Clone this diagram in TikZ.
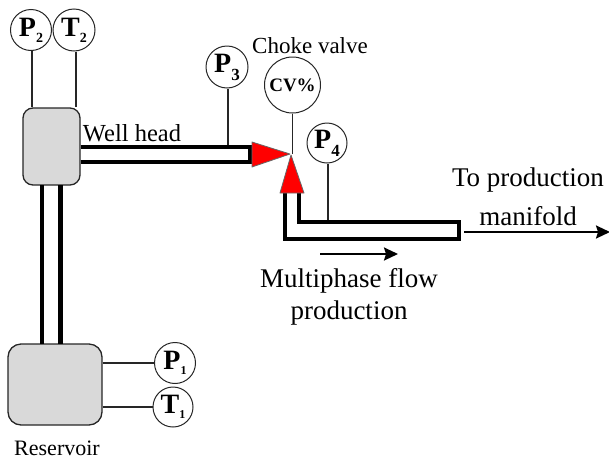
\documentclass[tikz,border=0pt]{standalone}
\usepackage{fontspec}
\setmainfont{Liberation Serif}
\usetikzlibrary{arrows.meta}
\newcommand{\gauge}[4]{{\fontsize{28}{28}\selectfont\bfseries #1\raisebox{#4}{\fontsize{#3}{#3}\selectfont #2}}}
\tikzset{
  x=1pt,y=-1pt,
  gaugenode/.style={draw=black!85,circle,fill=white,inner sep=0pt,line width=1pt},
  lead/.style={draw=black!85,line width=1.1pt},
  vessel/.style={draw=black!85,fill=black!15,line width=1.3pt,inner sep=0pt},
  pipewall/.style={line width=4.6pt,black},
  valvetri/.style={fill=red,draw=black!60,line width=0.8pt,line join=round},
  flowarrow/.style={line width=2.2pt,-{Stealth[length=14pt,width=13pt,inset=2pt]}},
  lbl/.style={font=\fontsize{27}{32}\selectfont,align=center,inner sep=0pt}
}
\begin{document}
\begin{tikzpicture}
\useasboundingbox (0,0) rectangle (609,461);
% vessels
\node[vessel,rounded corners=10pt,minimum width=57pt,minimum height=77pt] (wh) at (51.5,146.5) {};
\node[vessel,rounded corners=13pt,minimum width=94pt,minimum height=81pt] (res) at (55,384.5) {};
% gauges
\node[gaugenode,minimum size=41pt] (p2) at (31,30) {\gauge{P}{2}{14}{-6pt}};
\node[gaugenode,minimum size=42pt] (t2) at (74,30) {\gauge{T}{2}{14}{-6pt}};
\node[gaugenode,minimum size=42pt] (p3) at (227,67) {\gauge{P}{3}{17}{-8pt}};
\node[gaugenode,minimum size=56pt] (cv) at (292.5,85) {{\fontsize{19}{19}\selectfont\bfseries CV\%}};
\node[gaugenode,minimum size=40pt] (p4) at (327,143) {\gauge{P}{4}{17}{-8pt}};
\node[gaugenode,minimum size=41pt] (p1) at (175,363) {\gauge{P}{1}{12}{-5pt}};
\node[gaugenode,minimum size=40pt] (t1) at (173,407) {\gauge{T}{1}{12}{-5pt}};
% named junctions
\coordinate (hpa) at (252,147);
\coordinate (hpb) at (252,162);
\coordinate (apex) at (290,154);
\coordinate (lowtop) at (299,222);
\coordinate (outlet) at (464,232);
\coordinate (outend) at (610,232);
\coordinate (flowa) at (320,254);
\coordinate (flowb) at (398,254);
% leads
\draw[lead] ([xshift=1pt]p2.south) -- ([xshift=1pt]p2.south |- wh.north);
\draw[lead] ([xshift=2pt]t2.south) -- ([xshift=2pt]t2.south |- wh.north);
\draw[lead] ([xshift=1pt]p3.south) -- ([xshift=1pt]p3.south |- hpa);
\draw[lead] (cv.south) -- (cv.south |- apex);
\draw[lead] ([xshift=1pt]p4.south) -- ([xshift=1pt]p4.south |- lowtop);
\draw[lead] (res.east |- p1) -- (p1.west);
\draw[lead] (res.east |- t1) -- (t1.west);
% pipes
\draw[pipewall] (42,185) -- (42,344);
\draw[pipewall] (60.5,185) -- (60.5,344);
\draw[pipewall] (wh.east |- hpa) -- (hpa);
\draw[pipewall] (wh.east |- hpb) -- (hpb);
\draw[pipewall] (250,145) -- (250,164);
\draw[pipewall,fill=white,miter limit=10] (285,190) -- (285,239) -- (459,239) -- (459,222) -- (lowtop) -- (299,190);
% valve
\draw[valvetri] (252,142) -- (apex) -- (252,167) -- cycle;
\draw[valvetri] (280,193) -- (291,155) -- (304,193) -- cycle;
% flow arrows
\draw[flowarrow] (outlet) -- (outend);
\draw[flowarrow] (flowa) -- (flowb);
% labels
\node[lbl,font=\fontsize{24.5}{28}\selectfont] (lwh) at (132,133) {Well head};
\node[lbl,font=\fontsize{23}{28}\selectfont] (lcv) at (310,46) {Choke valve};
\node[lbl] (lman) at (528,197) {To production\\[7pt]manifold};
\node[lbl] (lflow) at (349,297) {Multiphase flow\\production};
\node[lbl,font=\fontsize{22}{24}\selectfont] (lres) at (57,448) {Reservoir};
\end{tikzpicture}
\end{document}
